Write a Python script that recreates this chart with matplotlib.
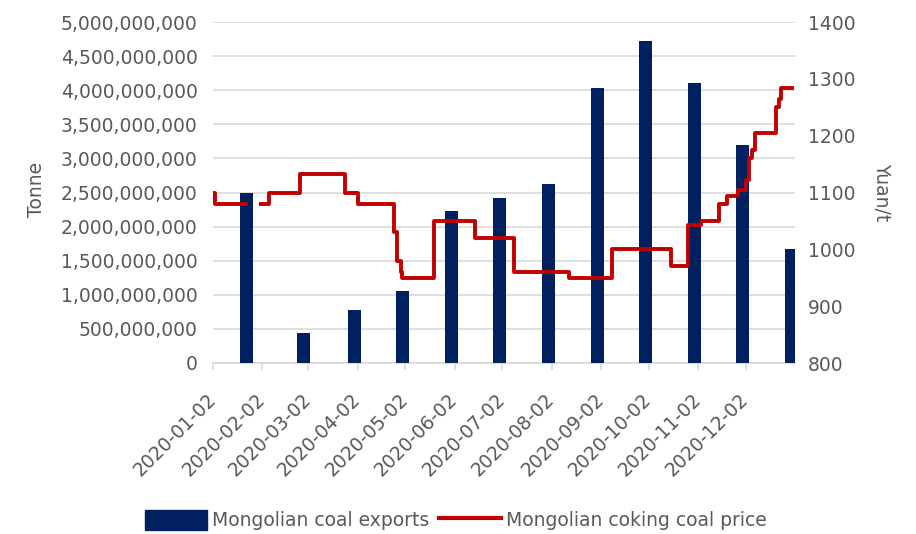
import matplotlib
matplotlib.use("Agg")
import matplotlib.pyplot as plt
import matplotlib.transforms as mtransforms
from matplotlib.patches import Patch
from matplotlib.lines import Line2D
import numpy as np
import pandas as pd

# ---- data ----
export_dates = ['2020-01-23', '2020-02-28', '2020-03-31', '2020-04-30', '2020-05-31', '2020-06-30',
                '2020-07-31', '2020-08-31', '2020-09-30', '2020-10-31', '2020-11-30', '2020-12-31']
export_values = [2.49e9, 0.44e9, 0.77e9, 1.05e9, 2.23e9, 2.42e9,
                 2.62e9, 4.03e9, 4.72e9, 4.10e9, 3.20e9, 1.67e9]

price_dates = ['2020-01-02', '2020-01-03', '2020-01-23', '2020-02-01', '2020-02-06', '2020-02-26',
               '2020-03-25', '2020-04-02', '2020-04-25', '2020-04-27', '2020-04-29', '2020-04-30',
               '2020-05-20', '2020-06-15', '2020-07-09', '2020-08-13', '2020-09-09', '2020-10-16',
               '2020-10-27', '2020-11-04', '2020-11-15', '2020-11-20', '2020-11-27', '2020-12-02',
               '2020-12-04', '2020-12-06', '2020-12-08', '2020-12-21', '2020-12-23', '2020-12-24',
               '2020-12-31']
price_values = [1100, 1080, np.nan, 1080, 1100, 1133,
                1100, 1080, 1030, 980, 960, 950,
                1050, 1020, 960, 950, 1000, 970,
                1043, 1050, 1080, 1093, 1104, 1122,
                1160, 1175, 1205, 1250, 1265, 1283,
                1283]

tick_dates = ['2020-01-02', '2020-02-02', '2020-03-02', '2020-04-02', '2020-05-02', '2020-06-02',
              '2020-07-02', '2020-08-02', '2020-09-02', '2020-10-02', '2020-11-02', '2020-12-02']
left_ticks = [0, 5e8, 1e9, 1.5e9, 2e9, 2.5e9, 3e9, 3.5e9, 4e9, 4.5e9, 5e9]
right_ticks = [800, 900, 1000, 1100, 1200, 1300, 1400]

bar_label = 'Mongolian coal exports'
line_label = 'Mongolian coking coal price'

# ---- style ----
plt.rcParams['font.family'] = ['DejaVu Sans']
TXT = '#595959'
NAVY = '#002060'
RED = '#c00000'
FS = 13.5

fig = plt.figure(figsize=(9.16, 5.34), dpi=100)
ax = fig.add_axes([213/916, 1-363/534, (795-213)/916, (363-22)/534])
ax2 = ax.twinx()

ed = pd.to_datetime(export_dates)
pdt = pd.to_datetime(price_dates)

ax.bar(ed, export_values, width=8, color=NAVY, zorder=3, align='center')
ax2.step(pdt, price_values, where='post', color=RED, lw=2.8, zorder=4)

ax.set_xlim(pd.Timestamp('2020-01-02'), pd.Timestamp('2021-01-02'))
ax.set_ylim(0, 5e9)
ax2.set_ylim(800, 1400)

ax.set_yticks(left_ticks)
ax.set_yticklabels([f'{v:,.0f}' for v in left_ticks])
ax2.set_yticks(right_ticks)
ax2.set_yticklabels([str(v) for v in right_ticks])

ax.set_xticks(pd.to_datetime(tick_dates))
ax.set_xticklabels(tick_dates, rotation=45, ha='right', va='center', rotation_mode='anchor')
off = mtransforms.ScaledTranslation(7/100, 0, fig.dpi_scale_trans)
for lab in ax.get_xticklabels():
    lab.set_transform(lab.get_transform() + off)

ax.grid(axis='y', color='#d9d9d9', lw=1.2, zorder=0)
ax.set_axisbelow(True)
for a in (ax, ax2):
    for s in a.spines.values():
        s.set_visible(False)
ax.spines['bottom'].set_visible(True)
ax.spines['bottom'].set_color('#d9d9d9')
ax.spines['bottom'].set_linewidth(1.2)

ax.tick_params(axis='y', length=0, pad=11, labelsize=FS, labelcolor=TXT)
ax2.tick_params(axis='y', length=0, pad=9, labelsize=FS, labelcolor=TXT)
ax.tick_params(axis='x', length=5, color='#d9d9d9', width=1.2, pad=19, labelsize=FS, labelcolor=TXT)

ax.set_ylabel('Tonne', fontsize=FS, color=TXT)
ax.yaxis.set_label_coords(-(213-46)/(795-213), 0.51)
ax2.set_ylabel('Yuan/t', fontsize=FS, color=TXT, rotation=-90, va='center')
ax2.yaxis.set_label_coords((882-213)/(795-213), 0.50)

handles = [Patch(facecolor=NAVY, edgecolor=NAVY), Line2D([0], [0], color=RED, lw=3)]
leg = fig.legend(handles, [bar_label, line_label], loc='center', bbox_to_anchor=(456/916, 1-520/534),
                 ncol=2, frameon=False, fontsize=FS, handlelength=3.3, handleheight=1.3,
                 columnspacing=0.5, handletextpad=0.3)
for t in leg.get_texts():
    t.set_color(TXT)

fig.savefig('out.png', dpi=100)
